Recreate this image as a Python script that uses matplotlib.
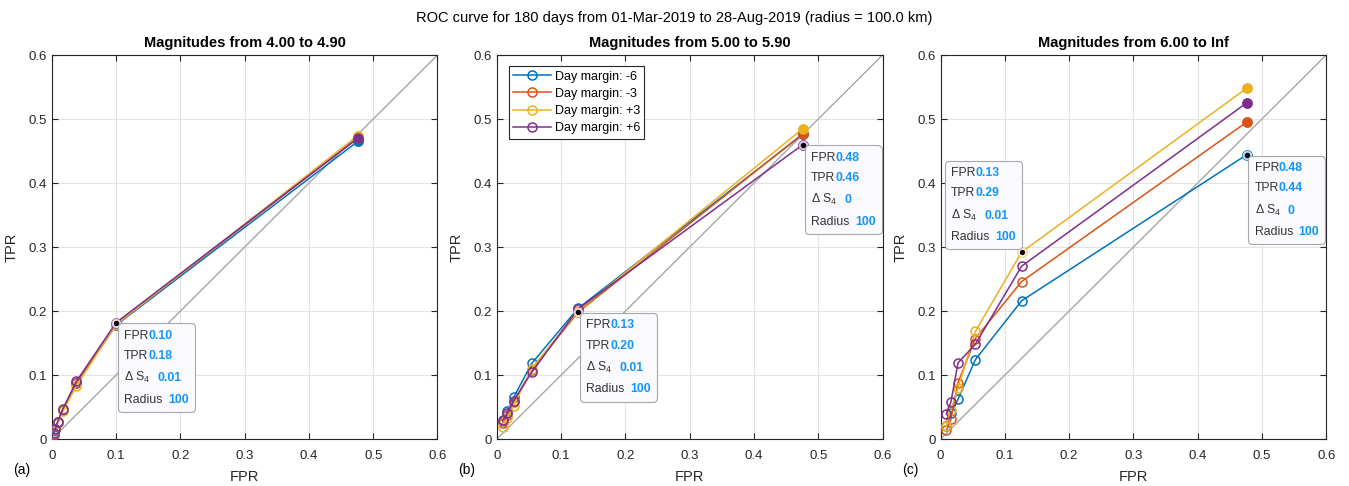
import matplotlib
matplotlib.use("Agg")
import matplotlib.pyplot as plt
from matplotlib.offsetbox import TextArea, HPacker, VPacker, AnnotationBbox

plt.rcParams['font.family'] = ['Liberation Sans', 'DejaVu Sans']
plt.rcParams['mathtext.fontset'] = 'custom'
plt.rcParams['mathtext.rm'] = 'Liberation Sans'
plt.rcParams['mathtext.it'] = 'Liberation Sans:italic'

# ROC points per magnitude band, one row per day margin
labels = ['Day margin: -6', 'Day margin: -3', 'Day margin: +3', 'Day margin: +6']
colors = ['#0072BD', '#D95319', '#EDB120', '#7E2F8E']

fpr_a = [0.003, 0.005, 0.009, 0.017, 0.038, 0.100, 0.476]
tpr_a = [
    [0.007, 0.014, 0.026, 0.046, 0.088, 0.178, 0.465],
    [0.008, 0.015, 0.027, 0.046, 0.087, 0.180, 0.470],
    [0.009, 0.016, 0.025, 0.043, 0.083, 0.179, 0.474],
    [0.009, 0.016, 0.027, 0.047, 0.090, 0.182, 0.470],
]

fpr_b = [0.009, 0.016, 0.026, 0.054, 0.126, 0.476]
tpr_b = [
    [0.028, 0.043, 0.065, 0.118, 0.204, 0.476],
    [0.025, 0.038, 0.058, 0.108, 0.198, 0.477],
    [0.019, 0.033, 0.052, 0.110, 0.200, 0.485],
    [0.029, 0.040, 0.060, 0.104, 0.203, 0.460],
]

fpr_c = [0.009, 0.016, 0.027, 0.054, 0.126, 0.476]
tpr_c = [
    [0.020, 0.040, 0.062, 0.124, 0.216, 0.444],
    [0.014, 0.031, 0.088, 0.157, 0.246, 0.495],
    [0.020, 0.045, 0.080, 0.168, 0.292, 0.548],
    [0.039, 0.058, 0.119, 0.148, 0.270, 0.525],
]

titles = ['Magnitudes from 4.00 to 4.90', 'Magnitudes from 5.00 to 5.90',
          'Magnitudes from 6.00 to Inf']
panel_tags = ['(a)', '(b)', '(c)']

# datatips: (series index, point index, delta S4, box corner, pixel offset)
tips_a = [(3, 5, '0.01', (0, 1), (8, -7))]
tips_b = [(1, 4, '0.01', (0, 1), (8, -7)), (3, 5, '0', (0, 1), (8, -7))]
tips_c = [(2, 4, '0.01', (1, 0), (-6, 9)), (0, 5, '0', (0, 1), (8, -7))]

VAL = '#1296F7'
GREY = '#333333'


def datatip(ax, x, y, ds4, align, off):
    fs = 8.8
    def row(name, val, sep=1):
        return HPacker(children=[
            TextArea(name, textprops=dict(color=GREY, fontsize=fs)),
            TextArea(val, textprops=dict(color=VAL, fontsize=fs, fontweight='bold'))],
            pad=0, sep=sep, align='baseline')
    rows = [row('FPR', f'{x:.2f}', 0), row('TPR', f'{y:.2f}', 0),
            row('Δ $\\mathrm{S}_4$', ds4, 5), row('Radius', '100', 4)]
    box = VPacker(children=rows, pad=0, sep=6, align='left')
    ab = AnnotationBbox(box, (x, y), xybox=off, xycoords='data',
                        boxcoords='offset pixels', box_alignment=align,
                        pad=0.45, zorder=10,
                        bboxprops=dict(boxstyle='round,pad=0.45,rounding_size=0.3',
                                       fc='#f9f9fe', ec='#a8a8a8', lw=0.8))
    ax.add_artist(ab)
    ax.plot(x, y, 'o', ms=6, mfc='white', mec='white', alpha=0.6, zorder=9)
    ax.plot(x, y, 'o', ms=2.8, color='black', zorder=9)


fig = plt.figure(figsize=(13.49, 4.86), dpi=100)
lefts = [0.0385, 0.3684, 0.6973]
panels = [(fpr_a, tpr_a, tips_a), (fpr_b, tpr_b, tips_b), (fpr_c, tpr_c, tips_c)]

for k, (fpr, tprs, tips) in enumerate(panels):
    ax = fig.add_axes([lefts[k], 0.0967, 0.2858, 0.7901])
    ax.plot([0, 0.6], [0, 0.6], color='#a6a6a6', lw=1.0, zorder=1)
    for i, tpr in enumerate(tprs):
        ax.plot(fpr, tpr, '-o', color=colors[i], lw=1.1, ms=6.5, mfc='none',
                mew=1.1, label=labels[i], zorder=3)
        ax.plot(fpr[-1], tpr[-1], 'o', color=colors[i], ms=6.5, zorder=4)
    for si, pi, ds4, align, off in tips:
        datatip(ax, fpr[pi], tprs[si][pi], ds4, align, off)

    ax.set_xlim(0, 0.6)
    ax.set_ylim(0, 0.6)
    ax.set_xticks([0, 0.1, 0.2, 0.3, 0.4, 0.5, 0.6])
    ax.set_yticks([0, 0.1, 0.2, 0.3, 0.4, 0.5, 0.6])
    ax.set_xticklabels(['0', '0.1', '0.2', '0.3', '0.4', '0.5', '0.6'])
    ax.set_yticklabels(['0', '0.1', '0.2', '0.3', '0.4', '0.5', '0.6'])
    ax.grid(True, color='#e3e3e3', lw=0.8)
    ax.set_axisbelow(True)
    ax.tick_params(direction='in', top=True, right=True, length=4,
                   labelsize=9.5, colors='#262626', width=0.8)
    ax.tick_params(axis='x', pad=8)
    for s in ax.spines.values():
        s.set_color('#262626')
        s.set_linewidth(0.8)
    ax.set_title(titles[k], fontsize=10.5, fontweight='bold', pad=6)
    ax.set_xlabel('FPR', fontsize=10.5, color='#262626', labelpad=6)
    ax.set_ylabel('TPR', fontsize=10.5, color='#262626', labelpad=7)
    ax.text(-0.1, -0.08, panel_tags[k], transform=ax.transAxes,
            fontsize=10, ha='left', va='center')

    if k == 1:
        leg = ax.legend(loc='upper left', bbox_to_anchor=(0.031, 0.971),
                        borderaxespad=0, fontsize=9, handlelength=3.0,
                        fancybox=False, framealpha=1, edgecolor='#262626',
                        labelspacing=0.42, handletextpad=0.3, borderpad=0.35)
        leg.get_frame().set_linewidth(0.8)

fig.suptitle('ROC curve for 180 days from 01-Mar-2019 to 28-Aug-2019 (radius = 100.0 km)',
             fontsize=10.5, y=0.977)

fig.savefig('out.png', dpi=100)
